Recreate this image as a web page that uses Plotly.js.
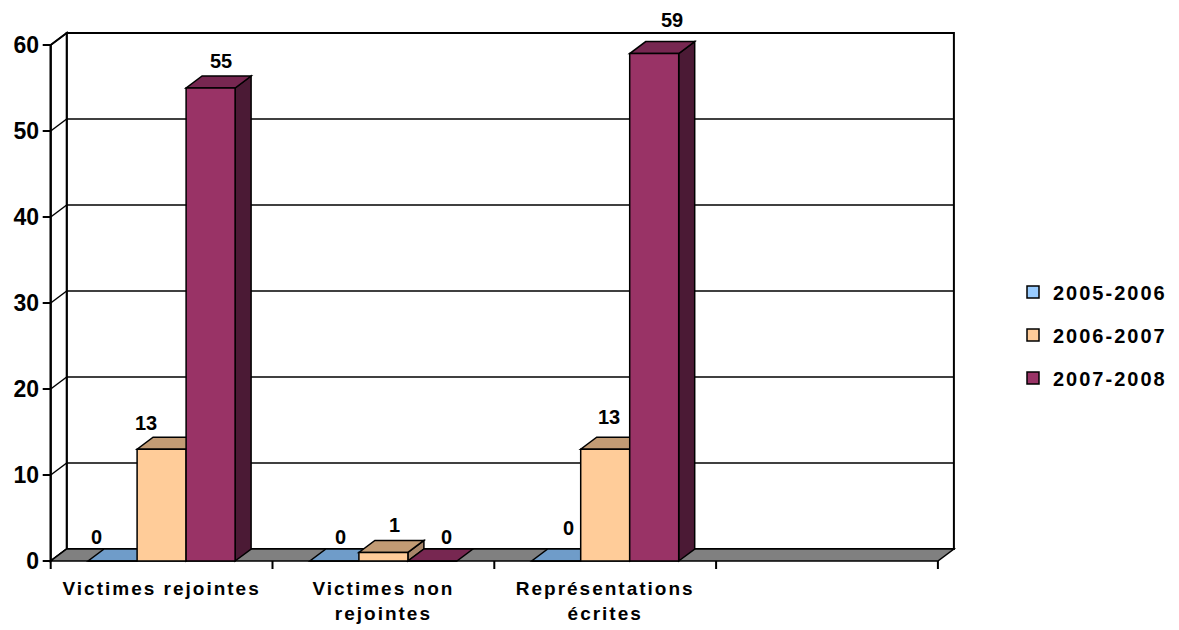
<!DOCTYPE html>
<html>
<head>
<meta charset="utf-8">
<script src="https://cdn.plot.ly/plotly-3.0.1.min.js"></script>
<style>
  html, body { margin: 0; padding: 0; background: #fff; }
  #chart { width: 1179px; height: 630px; }
  .xtick text { letter-spacing: 2px; }
  .legendtext { letter-spacing: 2px; }
</style>
</head>
<body>
<div id="chart"></div>
<script>
// ---- data ----
const categories = ["Victimes rejointes", "Victimes non<br>rejointes", "Représentations<br>écrites"];
const seriesNames = ["2005-2006", "2006-2007", "2007-2008"];
const values2005 = [0, 0, 0];
const values2006 = [13, 1, 13];
const values2007 = [55, 0, 59];
const yTicks = [0, 10, 20, 30, 40, 50, 60];

// ---- style ----
const FONT = "Liberation Sans, Arial, sans-serif";
const frontColors = ["#99CCFF", "#FFCC99", "#993366"];
const topColors   = ["#6f9cc9", "#c29b74", "#772751"];
const sideColors  = ["#5a82a8", "#a8866a", "#4b1a35"];
// per-label pixel nudges [series][category] (right, up)
const labelNudgeX = [[-16, 6, 12], [-16, 11, 4], [10, 14, 18]];
const labelNudgeY = [[24, 24, 33], [26, 27, 32], [27, 24, 34]];

// ---- geometry (pixels) ----
const W = 1179, H = 630;
const plotL = 40, plotR = 960, plotT = 28, plotB = 575;
const frontLeftPx = 50.7, frontZeroPx = 561;
const pxPerX = 221.8, pxPerY = 8.6;
const depthPx = [16, 12];          // right, up
const slots = 4;                   // category slots on the axis (last one empty)
const barW = 49 / pxPerX;

const xRange = [-0.5 - (frontLeftPx - plotL) / pxPerX, -0.5 + (plotR - frontLeftPx) / pxPerX];
const yRange = [-(plotB - frontZeroPx) / pxPerY, (frontZeroPx - plotT) / pxPerY];
const DX = depthPx[0] / pxPerX;
const DY = depthPx[1] / pxPerY;
const xMin = -0.5, xMax = slots - 0.5;
const yMax = yTicks[yTicks.length - 1];

const allValues = [values2005, values2006, values2007];
const xPos = categories.map((_, i) => i);
const offsets = allValues.map((_, s) => -1.5 * barW + s * barW);

// ---- helpers for the 3D frame ----
const shapes = [];
function poly(pts, fill, lw) {
  shapes.push({
    type: "path", xref: "x", yref: "y", layer: "below",
    path: "M" + pts.map(p => p[0] + "," + p[1]).join("L") + "Z",
    fillcolor: fill, line: { color: "#000", width: lw }
  });
}
function seg(x0, y0, x1, y1, lw) {
  shapes.push({
    type: "line", xref: "x", yref: "y", layer: "below",
    x0: x0, y0: y0, x1: x1, y1: y1, line: { color: "#000", width: lw }
  });
}

// back wall
poly([[xMin + DX, DY], [xMax + DX, DY], [xMax + DX, yMax + DY], [xMin + DX, yMax + DY]], "#fff", 2);
// left wall
poly([[xMin, 0], [xMin + DX, DY], [xMin + DX, yMax + DY], [xMin, yMax]], "#fff", 2);
// gridlines on the back wall + diagonals on the left wall
yTicks.forEach(v => {
  if (v > 0 && v < yMax) seg(xMin + DX, v + DY, xMax + DX, v + DY, 1.5);
  seg(xMin, v, xMin + DX, v + DY, 1.5);
});
// floor
poly([[xMin, 0], [xMax, 0], [xMax + DX, DY], [xMin + DX, DY]], "#808080", 1.5);
// front value axis line and its ticks
seg(xMin, 0, xMin, yMax, 2);
yTicks.forEach(v => seg(xMin - 8 / pxPerX, v, xMin, v, 2));
// category boundary ticks
for (let b = 0; b <= slots; b++) seg(xMin + b, 0, xMin + b, -8 / pxPerY, 2);

// top and side faces of every bar, left to right
xPos.forEach((x, c) => {
  allValues.forEach((vals, s) => {
    const v = vals[c];
    const x0 = x + offsets[s], x1 = x0 + barW;
    if (v > 0) poly([[x1, 0], [x1 + DX, DY], [x1 + DX, v + DY], [x1, v]], sideColors[s], 1.5);
    poly([[x0, v], [x1, v], [x1 + DX, v + DY], [x0 + DX, v + DY]], topColors[s], 1.5);
  });
});

// ---- front faces as bar traces ----
const traces = allValues.map((vals, s) => ({
  type: "bar",
  name: seriesNames[s],
  legendgroup: "g" + s,
  x: xPos,
  y: vals,
  width: barW,
  offset: offsets[s],
  marker: { color: frontColors[s], line: { color: "#000", width: 1.5 } },
  hoverinfo: "skip"
}));

// ---- value labels ----
const annotations = [];
allValues.forEach((vals, s) => {
  vals.forEach((v, c) => {
    annotations.push({
      xref: "x", yref: "y",
      x: xPos[c] + offsets[s] + barW / 2, y: v,
      text: String(v), showarrow: false,
      xanchor: "center", yanchor: "middle",
      xshift: labelNudgeX[s][c], yshift: labelNudgeY[s][c],
      font: { family: FONT, size: 20, color: "#000", weight: "bold" }
    });
  });
});

const layout = {
  width: W, height: H,
  margin: { l: plotL, r: W - plotR, t: plotT, b: H - plotB, pad: 0, autoexpand: false },
  paper_bgcolor: "#fff", plot_bgcolor: "rgba(0,0,0,0)",
  barmode: "overlay",
  showlegend: true,
  legend: {
    xref: "container", yref: "container",
    x: 1013 / W, xanchor: "left",
    y: 1 - 335 / H, yanchor: "middle",
    traceorder: "grouped", tracegroupgap: 14,
    font: { family: FONT, size: 20, color: "#000", weight: "bold" },
    bgcolor: "rgba(0,0,0,0)", borderwidth: 0
  },
  xaxis: {
    range: xRange, tickmode: "array", tickvals: xPos, ticktext: categories,
    ticks: "", showgrid: false, zeroline: false, showline: false,
    tickfont: { family: FONT, size: 19, color: "#000", weight: "bold" },
    automargin: false, fixedrange: true
  },
  yaxis: {
    range: yRange, tickmode: "array", tickvals: yTicks,
    ticks: "", showgrid: false, zeroline: false, showline: false,
    tickfont: { family: FONT, size: 23, color: "#000", weight: "bold" },
    ticklabelstandoff: 0,
    automargin: false, fixedrange: true
  },
  shapes: shapes,
  annotations: annotations
};

Plotly.newPlot("chart", traces, layout, { displayModeBar: false, staticPlot: true });
</script>
</body>
</html>
